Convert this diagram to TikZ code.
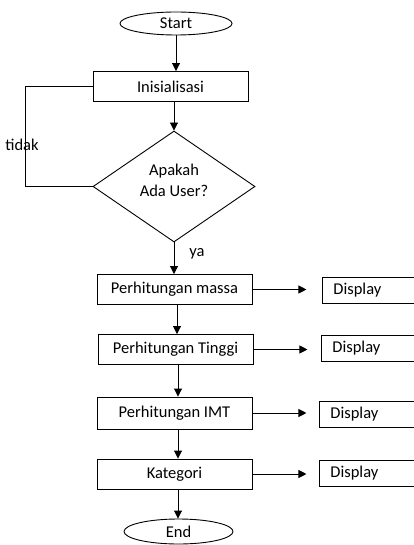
\documentclass[tikz,border=0pt]{standalone}
\usepackage{fontspec}
\setmainfont{Carlito}
\usetikzlibrary{shapes.geometric,arrows.meta}
\begin{document}
\begin{tikzpicture}[x=1pt,y=-1pt,
  every node/.style={font=\fontsize{16.5}{19}\selectfont, inner sep=0pt},
  proc/.style={draw, line width=0.9pt, minimum width=155pt, minimum height=30pt},
  disp/.style={draw, line width=0.9pt, anchor=west, minimum height=26pt, text width=90pt, align=left, inner xsep=11pt},
  term/.style={draw, ellipse, line width=0.9pt, minimum width=112pt, minimum height=23pt},
  dec/.style={draw, line width=0.9pt, diamond, minimum width=162pt, minimum height=111pt, aspect=1.46, align=center, text depth=12pt, font=\fontsize{16.5}{21}\selectfont},
  arr/.style={-{Triangle[length=8pt,width=8pt]}, line width=0.9pt},
  ln/.style={line width=0.9pt}]
\useasboundingbox (0,0) rectangle (414,545);
\clip (0,0) rectangle (414,545);
\node[term] (start) at (176,23.5) {\raisebox{-2pt}{Start}};
\node[proc] (init) at (170.5,86.5) {Inisialisasi};
\node[dec] (dec) at (174,186.5) {Apakah\\Ada User?};
\node[proc] (massa) at (174.5,289.5) {Perhitungan massa};
\node[proc] (tinggi) at (175.5,349.5) {Perhitungan Tinggi};
\node[proc, minimum height=32pt] (imt) at (174.5,413) {Perhitungan IMT};
\node[proc] (kat) at (174.5,474) {Kategori};
\node[term, minimum width=109pt, minimum height=25pt] (end) at (178.5,531.5) {\raisebox{-3pt}{End}};
\node[disp] (d1) at (322,290) {Display};
\node[disp] (d2) at (321,348.5) {Display};
\node[disp] (d3) at (319,414) {Display};
\node[disp] (d4) at (319,473.5) {Display};
\node (tidak) at (22,145) {tidak};
\node (ya) at (197,254) {ya};
\coordinate (c1) at (25,86.5);
\coordinate (c2) at (25,186.5);
\draw[arr] (start.south) -- (start.south |- init.north);
\draw[arr] (init.south -| dec.north) -- (dec.north);
\draw[ln] (init.west) -- (c1) -- (c2) -- (dec.west);
\draw[arr] (dec.south) -- (dec.south |- massa.north);
\draw[arr] (massa.south -| 177,0) -- (tinggi.north -| 177,0);
\draw[arr] (tinggi.south -| 178,0) -- (imt.north -| 178,0);
\draw[arr] (imt.south -| 178,0) -- (kat.north -| 178,0);
\draw[arr] (kat.south -| 178,0) -- (end.north -| 178,0);
\draw[arr] (massa.east) -- ++(54,0);
\draw[arr] (tinggi.east) -- ++(54,0);
\draw[arr] (imt.east) -- ++(54,0);
\draw[arr] (kat.east) -- ++(54,0);
\end{tikzpicture}
\end{document}
